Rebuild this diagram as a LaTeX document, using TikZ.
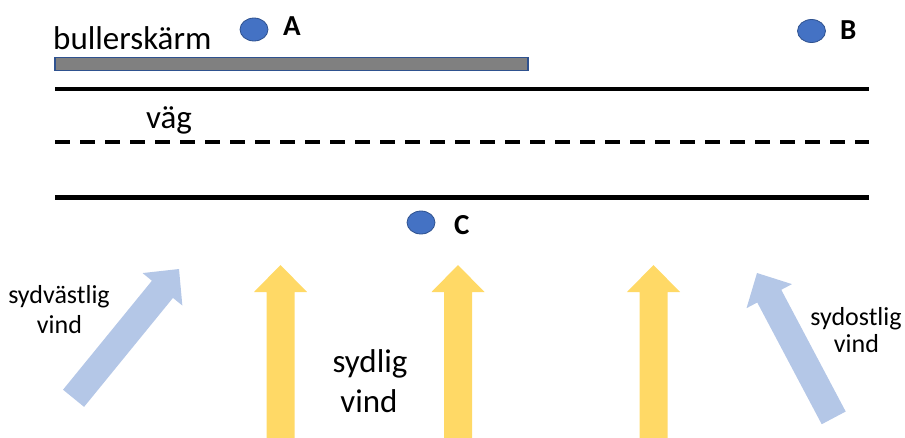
\documentclass[tikz,border=0pt]{standalone}
\usepackage{fontspec}
\setmainfont{Carlito}
\usetikzlibrary{shapes.geometric}
\definecolor{windyellow}{HTML}{FFD966}
\definecolor{windblue}{HTML}{B4C7E7}
\definecolor{pointfill}{HTML}{4472C4}
\definecolor{pointedge}{HTML}{2F528F}
\definecolor{barriergray}{HTML}{808080}
\tikzset{
  point/.style={ellipse, fill=pointfill, draw=pointedge, line width=0.8pt,
    minimum width=28pt, minimum height=23pt, inner sep=0pt},
  pointlabel/.style={font=\fontsize{29}{34}\selectfont\bfseries, inner sep=0pt, anchor=base west},
  biglabel/.style={font=\fontsize{33}{40}\selectfont, inner sep=0pt},
  windlabel/.style={font=\fontsize{26}{31}\selectfont, inner sep=0pt, anchor=base},
  roadline/.style={line width=4.5pt},
  pics/windarrow/.style={code={
    \fill[pic actions] (0,0) -- (26.5,27) -- (14,27) -- (14,#1) -- (-14,#1)
      -- (-14,27) -- (-26.5,27) -- cycle;}}
}
\begin{document}
\begin{tikzpicture}[x=1pt,y=-1pt]
\useasboundingbox (0,0) rectangle (905,437);
\clip (0,0) rectangle (905,437);

% noise barrier
\node[biglabel, anchor=base west] (barrierlabel) at (53,49) {bullerskärm};
\draw[fill=barriergray, draw=pointedge, line width=1.2pt] (55,57.5) rectangle (528,70.5);

% road edges and centre line
\coordinate (roadTL) at (55,89);   \coordinate (roadTR) at (869,89);
\coordinate (roadML) at (55,142);  \coordinate (roadMR) at (869,142);
\coordinate (roadBL) at (55,197.5);\coordinate (roadBR) at (869,197.5);
\draw[roadline] (roadTL) -- (roadTR);
\draw[line width=4pt, dash pattern=on 14.5pt off 10.5pt] (roadML) -- (roadMR);
\draw[roadline] (roadBL) -- (roadBR);
\node[biglabel, anchor=base west] (roadlabel) at (146,128) {väg};

% measurement points
\node[point] (A) at (254,29.5) {};
\node[pointlabel] (Alabel) at (283,35) {A};
\node[point] (B) at (811.5,31) {};
\node[pointlabel] (Blabel) at (840,39.5) {B};
\node[point] (C) at (421,222.5) {};
\node[pointlabel] (Clabel) at (454,234) {C};

% southerly wind
\pic[fill=windyellow] at (280.5,265) {windarrow=200};
\pic[fill=windyellow] at (458,265) {windarrow=200};
\pic[fill=windyellow] at (653.5,265) {windarrow=200};
\node[biglabel, anchor=base] (southA) at (370,372) {sydlig};
\node[biglabel, anchor=base] (southB) at (369,412) {vind};

% south-westerly wind
\pic[fill=windblue, rotate=-39.2, scale=0.97] at (179,269) {windarrow=172};
\node[windlabel] (swA) at (59,303) {sydvästlig};
\node[windlabel] (swB) at (59.5,333) {vind};

% south-easterly wind
\pic[fill=windblue, rotate=27.9, scale=0.97] at (757,273) {windarrow=169};
\node[windlabel] (seA) at (856,325) {sydostlig};
\node[windlabel] (seB) at (856.5,352) {vind};
\end{tikzpicture}
\end{document}
